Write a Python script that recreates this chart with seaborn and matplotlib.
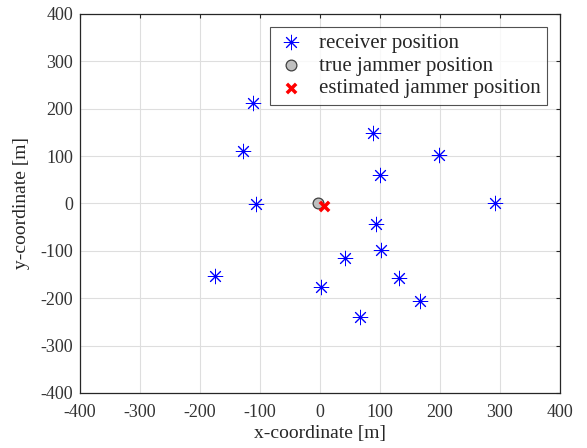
import numpy as np
import pandas as pd
import matplotlib
matplotlib.use("Agg")
import matplotlib.pyplot as plt
import seaborn as sns

# Receiver positions
rx_x = [-112, -128, -106, -175, 1, 42, 67, 88, 100, 93, 101, 132, 166, 198, 291]
rx_y = [212, 110, -2, -153, -177, -115, -239, 148, 59, -43, -98, -157, -205, 103, 0]

# Jammer positions
true_x, true_y = [-3], [0]
est_x, est_y = [7], [-5]

ticks = [-400, -300, -200, -100, 0, 100, 200, 300, 400]

sns.set_style("white")
plt.rcParams["font.family"] = ["Liberation Serif", "DejaVu Serif"]
plt.rcParams["axes.unicode_minus"] = False

fig = plt.figure(figsize=(5.87, 4.48), dpi=100)
ax = fig.add_axes([0.136, 0.123, 0.818, 0.846])

receivers = pd.DataFrame({"x": rx_x, "y": rx_y})
sns.scatterplot(data=receivers, x="x", y="y", ax=ax, marker=(8, 2, 0), s=110,
                color="blue", linewidth=0.7, edgecolor="blue",
                label="receiver position", zorder=3)
sns.scatterplot(x=true_x, y=true_y, ax=ax, marker="o", s=60,
                color="#bfbfbf", edgecolor="#404040", linewidth=0.9,
                label="true jammer position", zorder=4)
sns.scatterplot(x=est_x, y=est_y, ax=ax, marker="x", s=45,
                color="red", linewidth=2.5,
                label="estimated jammer position", zorder=5)

ax.set_xlim(-400, 400)
ax.set_ylim(-400, 400)
ax.set_xticks(ticks)
ax.set_yticks(ticks)
ax.grid(True, color="#dedede", linewidth=0.8)
ax.set_axisbelow(True)
ax.tick_params(direction="in", length=3, top=True, right=True, pad=5,
               labelsize=13, colors="#262626", labelcolor="#333333", width=0.8)
ax.tick_params(axis="x", pad=8)
for sp in ax.spines.values():
    sp.set_color("#262626")
    sp.set_linewidth(0.9)

ax.set_xlabel("x-coordinate [m]", fontsize=14, color="#262626", labelpad=3)
ax.set_ylabel("y-coordinate [m]", fontsize=14, color="#262626", labelpad=7)

leg = ax.legend(loc="upper right", fontsize=15, frameon=True, fancybox=False,
                borderaxespad=0.63, handletextpad=0.65, labelspacing=0.15,
                borderpad=0.3, handlelength=1.4)
leg.get_frame().set_edgecolor("#262626")
leg.get_frame().set_linewidth(0.8)

fig.savefig("out.png", dpi=100)
